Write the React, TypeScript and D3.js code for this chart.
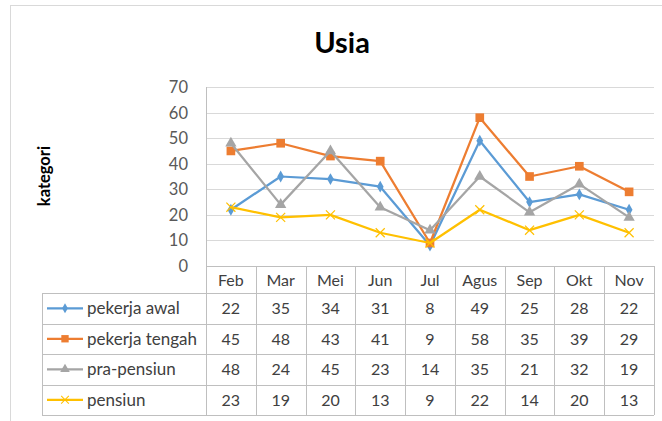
import { useEffect, useRef } from 'react';
import * as d3 from 'd3';

const months = ['Feb', 'Mar', 'Mei', 'Jun', 'Jul', 'Agus', 'Sep', 'Okt', 'Nov'];
const pekerjaAwal = [22, 35, 34, 31, 8, 49, 25, 28, 22];
const pekerjaTengah = [45, 48, 43, 41, 9, 58, 35, 39, 29];
const praPensiun = [48, 24, 45, 23, 14, 35, 21, 32, 19];
const pensiun = [23, 19, 20, 13, 9, 22, 14, 20, 13];
const yTicks = [0, 10, 20, 30, 40, 50, 60, 70];

const seriesNames = ['pekerja awal', 'pekerja tengah', 'pra-pensiun', 'pensiun'];
const seriesValues = [pekerjaAwal, pekerjaTengah, praPensiun, pensiun];
const seriesColors = ['#5B9BD5', '#ED7D31', '#A5A5A5', '#FFC000'];
const seriesMarkers = ['diamond', 'square', 'triangle', 'cross'];

const FONT = 'Lato, "Open Sans", sans-serif';

const App = () => {
  const ref = useRef<SVGSVGElement>(null);

  useEffect(() => {
    const width = 662;
    const height = 421;
    const svg = d3.select(ref.current);
    svg.selectAll('*').remove();
    svg.attr('width', width).attr('height', height);

    const plotLeft = 206;
    const plotRight = 654;
    const plotTop = 87;
    const plotBottom = 266;
    const legendLeft = 42;
    const rowH = 30.5;
    const headerH = 27;

    // outer frame
    svg.append('rect')
      .attr('x', 10.5).attr('y', 5.5)
      .attr('width', 700).attr('height', 500)
      .attr('fill', '#fff')
      .attr('stroke', '#d9d9d9');

    svg.append('text')
      .attr('x', 342).attr('y', 53)
      .attr('text-anchor', 'middle')
      .style('font-family', FONT)
      .style('font-size', '29px')
      .style('font-weight', 'bold')
      .attr('fill', '#000')
      .text('Usia');

    const x = d3.scaleBand<string>().domain(months).range([plotLeft, plotRight]);
    const y = d3.scaleLinear().domain([0, 70]).range([plotBottom, plotTop]);

    // gridlines
    svg.append('g').selectAll('line')
      .data(yTicks.filter(t => t > 0))
      .enter().append('line')
      .attr('x1', plotLeft).attr('x2', plotRight)
      .attr('y1', d => Math.round(y(d)) + 0.5).attr('y2', d => Math.round(y(d)) + 0.5)
      .attr('stroke', '#d9d9d9').attr('stroke-width', 1);

    // y-axis
    svg.append('g').selectAll('text')
      .data(yTicks)
      .enter().append('text')
      .attr('x', 188)
      .attr('y', d => y(d) + 6)
      .attr('text-anchor', 'end')
      .style('font-family', FONT)
      .style('font-size', '16.5px')
      .attr('fill', '#595959')
      .text(d => d);

    svg.append('text')
      .attr('transform', 'translate(50,176) rotate(-90)')
      .attr('text-anchor', 'middle')
      .style('font-family', FONT)
      .style('font-size', '16.5px')
      .style('font-weight', 'bold')
      .attr('fill', '#000')
      .text('kategori');

    // data table
    const tableColor = '#bfbfbf';
    const tableBottom = plotBottom + headerH + rowH * 4;
    const table = svg.append('g');
    table.selectAll('line.v')
      .data(months)
      .enter().append('line')
      .attr('x1', d => Math.round(x(d)!) + 0.5).attr('x2', d => Math.round(x(d)!) + 0.5)
      .attr('y1', (d, i) => (i === 0 ? plotTop : plotBottom))
      .attr('y2', tableBottom)
      .attr('stroke', tableColor);
    table.append('line')
      .attr('x1', plotRight + 0.5).attr('x2', plotRight + 0.5)
      .attr('y1', plotBottom).attr('y2', tableBottom)
      .attr('stroke', tableColor);
    table.append('line')
      .attr('x1', plotLeft).attr('x2', plotRight)
      .attr('y1', plotBottom + 0.5).attr('y2', plotBottom + 0.5)
      .attr('stroke', tableColor);
    const rowLines = d3.range(5).map(i => plotBottom + headerH + rowH * i);
    table.selectAll('line.h')
      .data(rowLines)
      .enter().append('line')
      .attr('x1', legendLeft).attr('x2', plotRight)
      .attr('y1', d => Math.round(d) + 0.5).attr('y2', d => Math.round(d) + 0.5)
      .attr('stroke', tableColor);
    table.append('line')
      .attr('x1', legendLeft + 0.5).attr('x2', legendLeft + 0.5)
      .attr('y1', plotBottom + headerH).attr('y2', tableBottom)
      .attr('stroke', tableColor);

    table.selectAll('text.month')
      .data(months)
      .enter().append('text')
      .attr('x', d => x(d)! + x.bandwidth() / 2)
      .attr('y', plotBottom + headerH / 2 + 6)
      .attr('text-anchor', 'middle')
      .style('font-family', FONT)
      .style('font-size', '16px')
      .attr('fill', '#404040')
      .text(d => d);

    const markerPath = (kind: string) => {
      if (kind === 'diamond') return d3.symbol(d3.symbolDiamond, 40)();
      if (kind === 'square') return d3.symbol(d3.symbolSquare, 75)();
      if (kind === 'triangle') return d3.symbol(d3.symbolTriangle, 55)();
      return d3.symbol(d3.symbolX, 55)();
    };

    seriesNames.forEach((name, si) => {
      const rowY = plotBottom + headerH + rowH * si + rowH / 2;
      const color = seriesColors[si];
      const kind = seriesMarkers[si];
      // legend key
      table.append('line')
        .attr('x1', 47).attr('x2', 83)
        .attr('y1', rowY).attr('y2', rowY)
        .attr('stroke', color).attr('stroke-width', 2.25);
      table.append('path')
        .attr('d', markerPath(kind))
        .attr('transform', `translate(65,${rowY}) scale(0.85)`)
        .attr('fill', kind === 'cross' ? 'none' : color)
        .attr('stroke', kind === 'cross' ? color : 'none')
        .attr('stroke-width', 1.2);
      table.append('text')
        .attr('x', 87).attr('y', rowY + 6)
        .style('font-family', FONT)
        .style('font-size', '17px')
        .attr('fill', '#404040')
        .text(name);
      table.selectAll(`text.v${si}`)
        .data(seriesValues[si])
        .enter().append('text')
        .attr('x', (d, i) => x(months[i])! + x.bandwidth() / 2)
        .attr('y', rowY + 6)
        .attr('text-anchor', 'middle')
        .style('font-family', FONT)
        .style('font-size', '16px')
        .attr('fill', '#404040')
        .text(d => d);
    });

    // lines
    const line = d3.line<number>()
      .x((d, i) => x(months[i])! + x.bandwidth() / 2)
      .y(d => y(d));

    seriesValues.forEach((vals, si) => {
      const color = seriesColors[si];
      const kind = seriesMarkers[si];
      const g = svg.append('g');
      g.append('path')
        .datum(vals)
        .attr('d', line)
        .attr('fill', 'none')
        .attr('stroke', color)
        .attr('stroke-width', 2.25)
        .attr('stroke-linejoin', 'round');
      g.selectAll('path.m')
        .data(vals)
        .enter().append('path')
        .attr('d', markerPath(kind))
        .attr('transform', (d, i) => `translate(${x(months[i])! + x.bandwidth() / 2},${y(d)})`)
        .attr('fill', kind === 'cross' ? 'none' : color)
        .attr('stroke', kind === 'cross' ? color : 'none')
        .attr('stroke-width', 1.2);
    });
  }, []);

  return (
    <svg ref={ref} style={{ position: 'absolute', left: 0, top: 0 }}></svg>
  );
};

export default App;
